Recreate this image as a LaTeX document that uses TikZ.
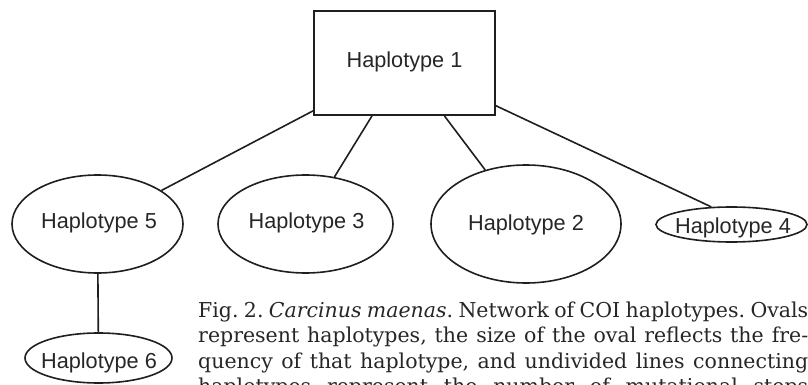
\documentclass[tikz,border=0pt]{standalone}
\usepackage{fontspec}
\setmainfont{DejaVu Serif}
\newfontfamily\labelfont{Liberation Sans}
\usetikzlibrary{shapes.geometric}
\begin{document}
\begin{tikzpicture}[x=1pt,y=-1pt,
  conn/.style={line width=1.6pt, draw=black!88},
  hapbox/.style={draw=black!88, line width=1.6pt, rectangle, inner sep=0pt},
  hapoval/.style={draw=black!88, ellipse, line width=1.6pt, inner sep=0pt},
  hlabel/.style={anchor=base, inner sep=0pt, text=black!85, font=\labelfont\fontsize{21.7}{26}\selectfont},
  caption/.style={anchor=base west, inner sep=0pt, font=\frenchspacing\fontsize{20.5}{25.5}\selectfont, text=black!85}
]
\useasboundingbox (0,0) rectangle (808,385);
\clip (0,0) rectangle (808,385);

% shapes
\node[hapbox, minimum width=181pt, minimum height=104pt] (h1) at (404.5,63) {};
\node[hapoval, minimum width=171pt, minimum height=98pt] (h5) at (97.5,224) {};
\node[hapoval, minimum width=175pt, minimum height=98pt] (h3) at (305.5,224) {};
\node[hapoval, minimum width=190pt, minimum height=118pt] (h2) at (526,224) {};
\node[hapoval, minimum width=151pt, minimum height=35pt] (h4) at (731.5,224.5) {};
\node[hapoval, minimum width=147pt, minimum height=50pt] (h6) at (98.5,358) {};

% labels
\node[hlabel] (t1) at (404.5,68) {Haplotype 1};
\node[hlabel] (t5) at (99,228) {Haplotype 5};
\node[hlabel] (t3) at (306.5,228) {Haplotype 3};
\node[hlabel] (t2) at (526,230) {Haplotype 2};
\node[hlabel] (t4) at (733,233) {Haplotype 4};
\node[hlabel] (t6) at (99,368) {Haplotype 6};

% connectors
\draw[conn] (h1) -- (h5);
\draw[conn] (h1) -- (h3);
\draw[conn] (h1) -- (h2);
\draw[conn] (h1) -- (h4.139);
\draw[conn] (h5) -- (h6);

% caption
\node[caption] (c1) at (198,317) {\makebox[610pt][s]{Fig. 2. \textit{Carcinus maenas}. Network of COI haplotypes. Ovals}};
\node[caption] (c2) at (198,342.5) {\makebox[610pt][s]{represent haplotypes, the size of the oval reflects the fre-}};
\node[caption] (c3) at (198,368) {\makebox[610pt][s]{quency of that haplotype, and undivided lines connecting}};
\node[caption] (c4) at (198,393.5) {\makebox[610pt][s]{haplotypes represent the number of mutational steps}};
\end{tikzpicture}
\end{document}
